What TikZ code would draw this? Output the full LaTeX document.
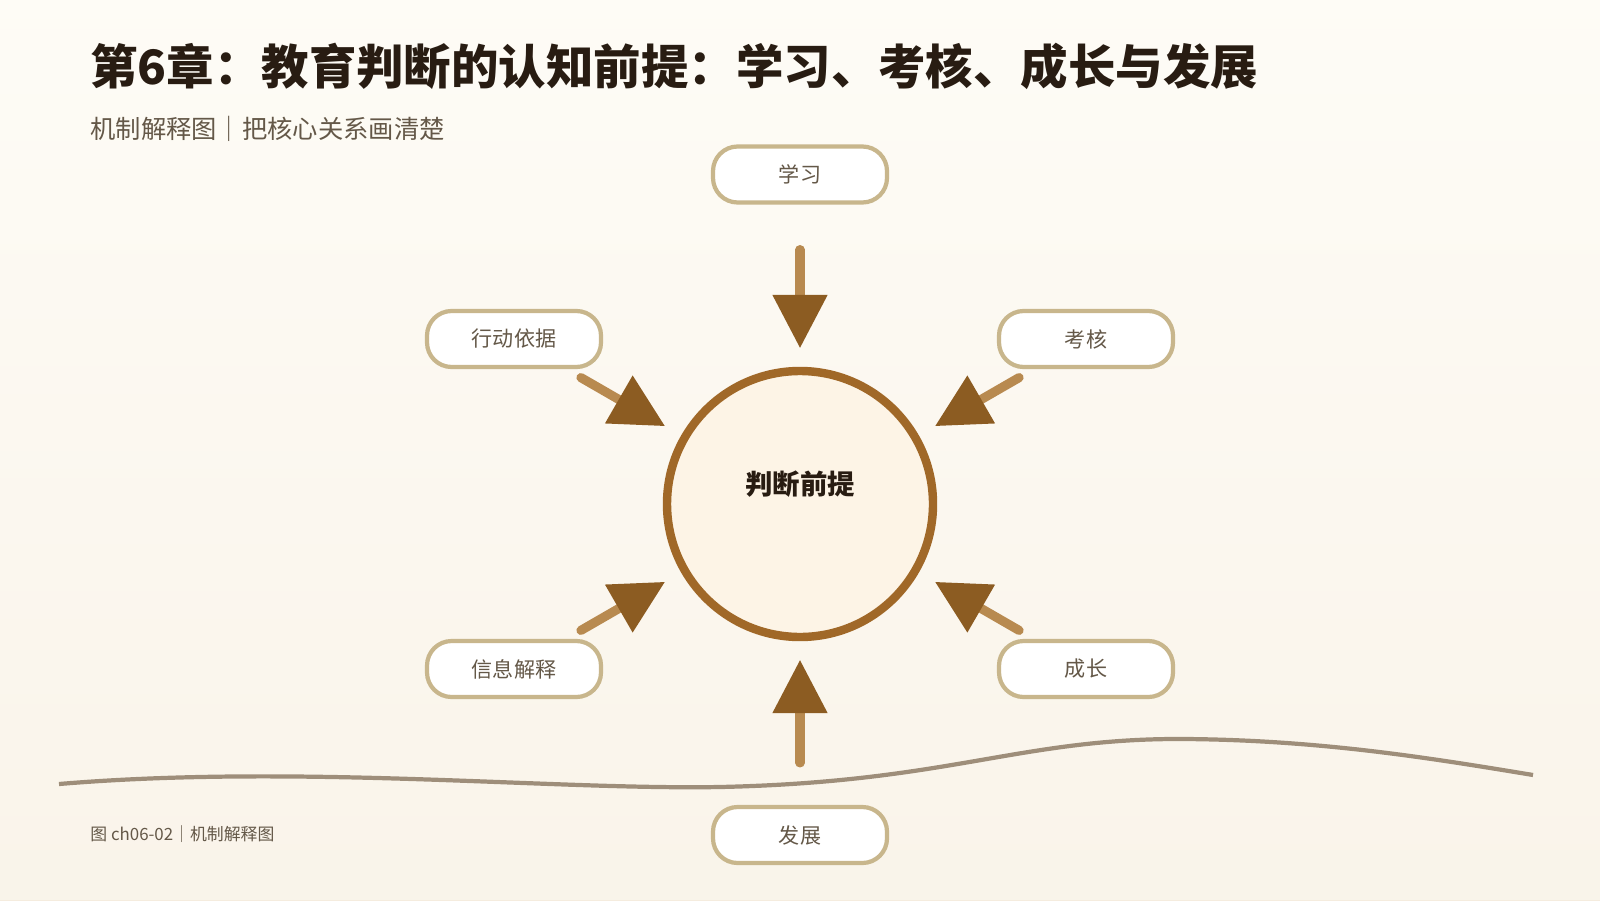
\documentclass[tikz,border=0pt]{standalone}
\usepackage{fontspec}
\usetikzlibrary{arrows.meta}
\newfontfamily\cjk{Noto Sans CJK SC}
\definecolor{PaperA}{RGB}{254, 252, 246}
\definecolor{PaperB}{RGB}{245, 236, 222}
\definecolor{BoxLine}{RGB}{200, 182, 140}
\definecolor{ShaftBrown}{RGB}{184, 138, 80}
\definecolor{TipBrown}{RGB}{140, 92, 34}
\definecolor{RingBrown}{RGB}{160, 104, 40}
\definecolor{CoreFill}{RGB}{253, 244, 230}
\definecolor{TextGray}{RGB}{100, 88, 72}
\definecolor{WaveGray}{RGB}{158, 142, 122}
\definecolor{TitleInk}{RGB}{40, 28, 18}
\newcommand{\lw}{1.2pt}

\begin{document}
\begin{tikzpicture}[
  factor/.style={draw=BoxLine, line width=\lw, rounded corners=7pt, fill=white,
    minimum width=1.74cm, minimum height=0.56cm, font=\cjk\fontsize{6}{7}\selectfont, text=TextGray},
  feed/.style={draw=ShaftBrown, line width=2.6pt, line cap=round,
    -{Triangle[length=0.53cm, width=0.55cm, color=TipBrown, fill=TipBrown, line width=0.5pt]}},
]
  \shade[left color=PaperA, right color=PaperB, shading angle=0] (0,0) rectangle (16,9);
  \fill[PaperA, opacity=0.5] (0,9) rectangle (16,0);
  \useasboundingbox (0,0) rectangle (16,9);

  % title and captions
  \node[anchor=west, text=TitleInk, font=\cjk\bfseries\fontsize{13.5}{15}\selectfont] (title) at (0.78, 8.34)
    {第6章：教育判断的认知前提：学习、考核、成长与发展};
  \node[anchor=west, text=TextGray, font=\cjk\fontsize{7.2}{8}\selectfont] (subtitle) at (0.78, 7.71)
    {机制解释图｜把核心关系画清楚};
  \node[anchor=west, text=TextGray, font=\cjk\fontsize{4.8}{5}\selectfont] (footer) at (0.78, 0.66)
    {图 ch06-02｜机制解释图};

  % wave
  \draw[WaveGray, line width=\lw] (0.59, 1.16)
    .. controls (3.0, 1.36) and (5.5, 1.10) .. (7.2, 1.13)
    .. controls (9.5, 1.18) and (10.2, 1.62) .. (11.84, 1.61)
    .. controls (13.2, 1.60) and (14.3, 1.42) .. (15.33, 1.25);

  % core
  \node[circle, draw=RingBrown, line width=2.4pt, fill=CoreFill, minimum size=2.66cm] (core) at (8.0, 3.96) {};
  \node[text=TitleInk, font=\cjk\bfseries\fontsize{7.8}{9}\selectfont] (corelabel) at (8.0, 4.16) {判断前提};

  % factors
  \node[factor] (learn)  at (8.0, 7.255) {学习};
  \node[factor] (act)    at (5.14, 5.61) {行动依据};
  \node[factor] (assess) at (10.86, 5.61) {考核};
  \node[factor] (info)   at (5.14, 2.31) {信息解释};
  \node[factor] (grow)   at (10.86, 2.31) {成长};
  \node[factor] (devel)  at (8.0, 0.65) {发展};

  % arrows
  \draw[feed, shorten <=0.45cm, shorten >=0.19cm] (learn) -- (core);
  \draw[feed, shorten <=0.42cm, shorten >=0.19cm] (devel) -- (core);
  \draw[feed, shorten <=0.17cm, shorten >=0.19cm] (act) -- (core);
  \draw[feed, shorten <=0.17cm, shorten >=0.19cm] (assess) -- (core);
  \draw[feed, shorten <=0.17cm, shorten >=0.19cm] (info) -- (core);
  \draw[feed, shorten <=0.17cm, shorten >=0.19cm] (grow) -- (core);
\end{tikzpicture}
\end{document}
